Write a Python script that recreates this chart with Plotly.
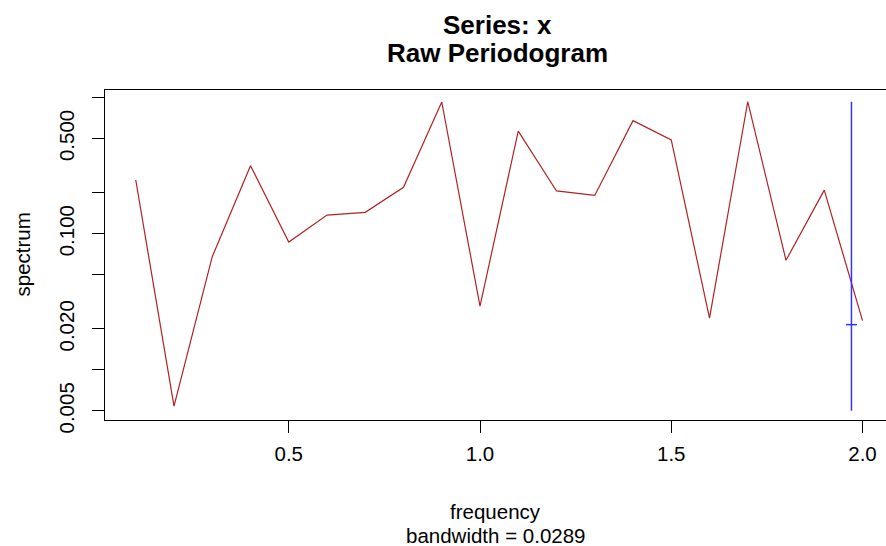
import plotly.graph_objects as go

# ---- data ----
frequency = [0.1, 0.2, 0.3, 0.4, 0.5, 0.6, 0.7, 0.8, 0.9, 1.0,
             1.1, 1.2, 1.3, 1.4, 1.5, 1.6, 1.7, 1.8, 1.9, 2.0]
spectrum = [0.248, 0.00543, 0.0678, 0.316, 0.0869, 0.137, 0.1436, 0.219, 0.927, 0.0294,
            0.567, 0.206, 0.191, 0.676, 0.488, 0.0240, 0.931, 0.0638, 0.209, 0.0230]
bandwidth = 0.0289
ci_lower, ci_center, ci_upper = 0.00502, 0.0215, 0.931

x_ticks = [0.5, 1.0, 1.5, 2.0]
x_tick_labels = ["0.5", "1.0", "1.5", "2.0"]
y_ticks = [0.005, 0.01, 0.02, 0.05, 0.1, 0.2, 0.5, 1.0]
y_tick_labels = ["0.005", "", "0.020", "", "0.100", "", "0.500", ""]

# ---- layout geometry ----
W, H = 886, 546
L, R, T, B = 105, 0, 90, 126
plot_h = H - T - B
plot_w = W - L - R
FONT = "Liberation Sans, Arial, sans-serif"


def py(p):  # pixel y -> paper y
    return (H - B - p) / plot_h


def px(p):  # pixel x -> paper x
    return (p - L) / plot_w


ci_x = max(frequency) - bandwidth

fig = go.Figure()
fig.add_trace(go.Scatter(x=frequency, y=spectrum, mode="lines",
                         line=dict(color="#B22222", width=1.2),
                         hoverinfo="skip", showlegend=False))
fig.add_trace(go.Scatter(x=[ci_x, ci_x], y=[ci_lower, ci_upper], mode="lines",
                         line=dict(color="#3333FF", width=1.5),
                         hoverinfo="skip", showlegend=False))
fig.add_trace(go.Scatter(x=[ci_x - bandwidth / 2, ci_x + bandwidth / 2],
                         y=[ci_center, ci_center], mode="lines",
                         line=dict(color="#3333FF", width=1.5),
                         hoverinfo="skip", showlegend=False))

fig.update_layout(
    width=W, height=H,
    margin=dict(l=L, r=R, t=T, b=B),
    paper_bgcolor="white", plot_bgcolor="white",
    font=dict(family=FONT, size=20.5, color="black"),
    showlegend=False,
    xaxis=dict(range=[0.0196, 2.0614], tickvals=x_ticks, ticktext=x_tick_labels,
               showgrid=False, zeroline=False, showline=True, linecolor="black",
               linewidth=1, mirror=True, ticks="outside", ticklen=12,
               tickcolor="black", ticklabelstandoff=3,
               tickfont=dict(family=FONT, size=20.5, color="black")),
    yaxis=dict(type="log", range=[-2.3678, 0.0551], tickvals=y_ticks,
               ticktext=y_tick_labels, tickangle=-90,
               showgrid=False, zeroline=False, showline=True, linecolor="black",
               linewidth=1, mirror=False, ticks="outside", ticklen=12,
               tickcolor="black", ticklabelstandoff=10,
               tickfont=dict(family=FONT, size=20.5, color="black")),
)

ann = [
    dict(text="<b>Series: x</b>", x=px(497), y=py(25), size=26, angle=0),
    dict(text="<b>Raw Periodogram</b>", x=px(497), y=py(53), size=26, angle=0),
    dict(text="frequency", x=px(495.5), y=py(511), size=20.5, angle=0),
    dict(text="bandwidth = 0.0289", x=px(495.5), y=py(535), size=20.5, angle=0),
    dict(text="spectrum", x=px(21.5), y=py(255), size=20.5, angle=-90),
]
for a in ann:
    fig.add_annotation(text=a["text"], xref="paper", yref="paper",
                       x=a["x"], y=a["y"], xanchor="center", yanchor="middle",
                       showarrow=False, textangle=a["angle"],
                       font=dict(family=FONT, size=a["size"], color="black"))

fig.write_html("out.html")
